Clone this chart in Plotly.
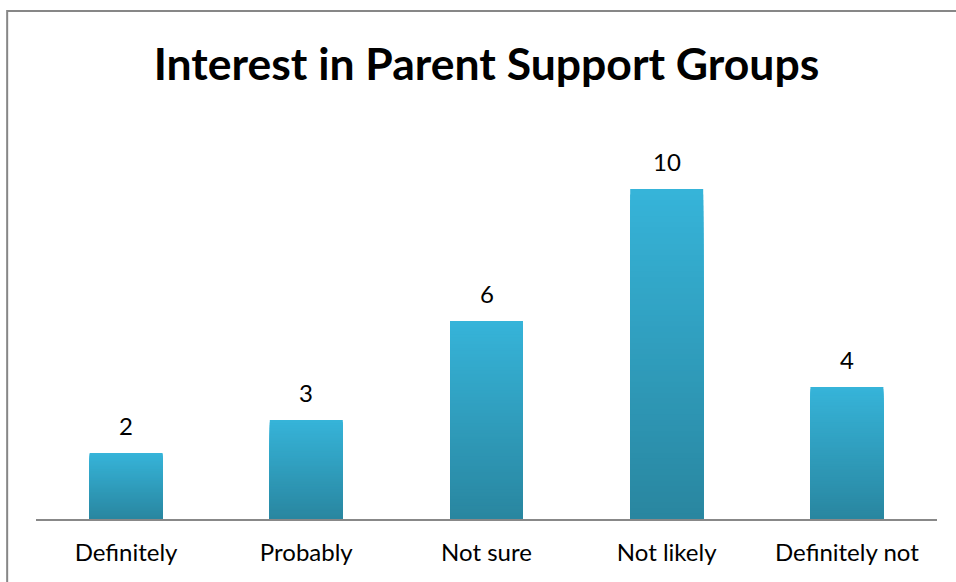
import plotly.graph_objects as go

# Survey responses
categories = ["Definitely", "Probably", "Not sure", "Not likely", "Definitely not"]
counts = [2, 3, 6, 10, 4]
title_text = "Interest in Parent Support Groups"

TOP_COLOR = (0x36, 0xB4, 0xD9)
BOTTOM_COLOR = (0x29, 0x86, 0xA0)
FONT = "Lato"
FIG_H = 582


def lerp_color(c0, c1, t):
    r, g, b = (round(a + (b_ - a) * t) for a, b_ in zip(c0, c1))
    return f"rgb({r},{g},{b})"


fig = go.Figure()

# Vertical gradient on each column: overlay progressively shorter,
# darker copies of the same bars so the bottom ends up darkest.
levels = 60
for k in range(levels):
    frac = (levels - k) / levels
    rel_mid = (levels - k - 0.5) / levels
    fig.add_trace(go.Bar(
        x=categories,
        y=[v * frac for v in counts],
        width=0.405,
        marker=dict(color=lerp_color(BOTTOM_COLOR, TOP_COLOR, rel_mid), line=dict(width=0)),
        hoverinfo="skip",
        showlegend=False,
    ))

# Value labels above each column
for cat, v in zip(categories, counts):
    fig.add_annotation(
        x=cat, y=v, text=str(v), showarrow=False,
        yanchor="bottom", yshift=11,
        font=dict(family=FONT, size=24, color="#000000"),
    )

# Outer chart frame
fig.add_shape(
    type="rect", xref="paper", yref="paper",
    x0=-0.032, x1=1.2, y0=-0.5, y1=1.283,
    line=dict(color="#878787", width=2), fillcolor="rgba(0,0,0,0)",
    layer="below",
)

fig.update_layout(
    width=956, height=FIG_H,
    margin=dict(l=36, r=19, t=123, b=63),
    paper_bgcolor="white", plot_bgcolor="white",
    barmode="overlay",
    title=dict(
        text=f"<b>{title_text}</b>",
        x=0.5, xref="paper", xanchor="center",
        y=1 - 64 / FIG_H, yref="container", yanchor="middle",
        font=dict(family=FONT, size=44.5, color="#000000"),
    ),
    xaxis=dict(
        type="category", range=[-0.5, 4.5],
        showline=True, linecolor="#888888", linewidth=2,
        showgrid=False, ticks="", zeroline=False,
        tickfont=dict(family=FONT, size=24, color="#000000"),
        ticklabelstandoff=11,
    ),
    yaxis=dict(
        range=[0, 12], visible=False, showgrid=False, zeroline=False,
    ),
)

fig.write_html("out.html")
